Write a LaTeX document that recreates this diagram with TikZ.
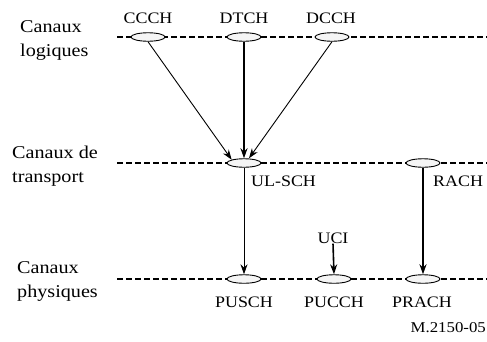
\documentclass[tikz,border=0pt]{standalone}
\usepackage{fontspec}
\setmainfont{Liberation Serif}[FakeStretch=1.12]
\usetikzlibrary{arrows.meta,shapes.geometric}
\begin{document}
\begin{tikzpicture}[x=1pt,y=-1pt,
  chan/.style={draw, ellipse, fill=gray!8, line width=0.9pt, minimum width=34pt, minimum height=8.5pt, inner sep=0pt},
  level/.style={dash pattern=on 6pt off 3pt, line width=2pt},
  lbl/.style={font=\fontsize{16}{18}\selectfont, inner sep=0pt},
  side/.style={font=\fontsize{18}{24}\selectfont, align=left, inner sep=0pt, anchor=west},
  arr/.style={-{Stealth[length=10pt,width=7pt]}, line width=0.9pt},
  arrb/.style={-{Stealth[length=10pt,width=7pt]}, line width=1.6pt}]
\useasboundingbox (0,0) rectangle (487,341);
\fill[white] (0,0) rectangle (487,341);
% level lines
\coordinate (l1a) at (117,37); \coordinate (l1b) at (487,37);
\coordinate (l2a) at (117,163); \coordinate (l2b) at (487,163);
\coordinate (l3a) at (117,279); \coordinate (l3b) at (487,279);
\draw[level] (l1a) -- (l1b);
\draw[level] (l2a) -- (l2b);
\draw[level] (l3a) -- (l3b);
% ellipses
\node[chan] (ccch) at (148,37) {};
\node[chan] (dtch) at (244,37) {};
\node[chan] (dcch) at (332,37) {};
\node[chan] (ulsch) at (244,163) {};
\node[chan] (rach) at (423,163) {};
\node[chan] (pusch) at (244,279) {};
\node[chan] (pucch) at (334,279) {};
\node[chan] (prach) at (423,279) {};
% labels
\node[lbl] (tccch) at (148,18) {CCCH};
\node[lbl] (tdtch) at (244,18) {DTCH};
\node[lbl] (tdcch) at (331,18) {DCCH};
\node[lbl, anchor=west] (tulsch) at (251,181) {UL-SCH};
\node[lbl, anchor=west] (track) at (433,181) {RACH};
\node[lbl] (tpusch) at (244,302) {PUSCH};
\node[lbl] (tpucch) at (334,302) {PUCCH};
\node[lbl] (tprach) at (422,302) {PRACH};
\node[lbl] (uci) at (333,238) {UCI};
\node[font=\fontsize{15}{17}\selectfont, anchor=east, inner sep=0pt] (fig) at (486,328) {M.2150-05};
% side labels
\node[side] (s1) at (20,40) {Canaux\\logiques};
\node[side] (s2) at (12,166) {Canaux de\\transport};
\node[side] (s3) at (17,281) {Canaux\\physiques};
% arrows
\draw[arr] (ccch.south) -- (ulsch.north west);
\draw[arrb] (dtch.south) -- (ulsch.north);
\draw[arr] (dcch.south) -- ([xshift=5pt]ulsch.north);
\draw[arr] (ulsch.south) -- (pusch.north);
\draw[arrb] (rach.south) -- (prach.north);
\draw[arrb] (uci.south) -- (pucch.north);
\end{tikzpicture}
\end{document}
